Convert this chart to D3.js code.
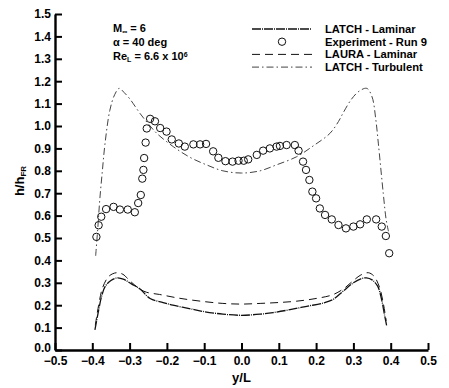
<!DOCTYPE html>
<html>
<head>
<meta charset="utf-8">
<script src="https://cdn.jsdelivr.net/npm/d3@7"></script>
<style>
  body { margin: 0; background: #fff; }
  text { font-family: "Liberation Sans", Arial, sans-serif; font-weight: bold; }
</style>
</head>
<body>
<svg id="chart"></svg>
<script>
const width = 449;
const height = 388;

const xTicks = [-0.5, -0.4, -0.3, -0.2, -0.1, 0.0, 0.1, 0.2, 0.3, 0.4, 0.5];
const yTicks = [0.0, 0.1, 0.2, 0.3, 0.4, 0.5, 0.6, 0.7, 0.8, 0.9, 1.0, 1.1, 1.2, 1.3, 1.4, 1.5];

// LATCH - Laminar
const latchLamX = [-0.393, -0.385, -0.375, -0.365, -0.35, -0.333, -0.315, -0.295, -0.272, -0.245, -0.21, -0.184, -0.14, -0.103, -0.05, 0.0, 0.05, 0.085, 0.13, 0.175, 0.22, 0.245, 0.272, 0.3, 0.32, 0.335, 0.35, 0.365, 0.375, 0.383, 0.389];
const latchLamY = [0.09, 0.16, 0.24, 0.285, 0.31, 0.322, 0.315, 0.295, 0.272, 0.23, 0.212, 0.2, 0.185, 0.172, 0.16, 0.155, 0.16, 0.167, 0.18, 0.195, 0.21, 0.225, 0.262, 0.3, 0.318, 0.322, 0.313, 0.285, 0.23, 0.16, 0.11];

// Experiment - Run 9
const expX = [-0.389, -0.383, -0.376, -0.363, -0.343, -0.326, -0.305, -0.286, -0.277, -0.27, -0.266, -0.263, -0.261, -0.257, -0.254, -0.245, -0.232, -0.218, -0.201, -0.187, -0.168, -0.152, -0.129, -0.111, -0.095, -0.076, -0.062, -0.043, -0.024, -0.008, 0.006, 0.018, 0.041, 0.058, 0.076, 0.094, 0.103, 0.121, 0.143, 0.153, 0.165, 0.173, 0.182, 0.19, 0.2, 0.21, 0.224, 0.242, 0.26, 0.28, 0.3, 0.318, 0.336, 0.361, 0.376, 0.387, 0.396];
const expY = [0.505, 0.557, 0.595, 0.629, 0.639, 0.627, 0.627, 0.615, 0.656, 0.692, 0.765, 0.804, 0.857, 0.926, 0.989, 1.032, 1.021, 0.991, 0.975, 0.94, 0.922, 0.908, 0.918, 0.918, 0.92, 0.887, 0.858, 0.843, 0.841, 0.845, 0.845, 0.851, 0.871, 0.89, 0.9, 0.908, 0.911, 0.915, 0.915, 0.89, 0.841, 0.804, 0.759, 0.707, 0.677, 0.632, 0.603, 0.583, 0.558, 0.543, 0.551, 0.561, 0.583, 0.583, 0.551, 0.509, 0.432];

// LAURA - Laminar
const lauraX = [-0.392, -0.383, -0.372, -0.355, -0.335, -0.318, -0.3, -0.275, -0.255, -0.22, -0.17, -0.11, -0.05, 0.0, 0.05, 0.1, 0.148, 0.2, 0.245, 0.275, 0.3, 0.32, 0.34, 0.355, 0.37, 0.38, 0.388];
const lauraY = [0.11, 0.2, 0.28, 0.33, 0.345, 0.338, 0.31, 0.275, 0.258, 0.248, 0.232, 0.218, 0.208, 0.205, 0.208, 0.212, 0.218, 0.23, 0.247, 0.275, 0.31, 0.335, 0.345, 0.33, 0.28, 0.21, 0.13];

// LATCH - Turbulent
const latchTurbX = [-0.391, -0.385, -0.38, -0.373, -0.366, -0.353, -0.34, -0.328, -0.315, -0.299, -0.272, -0.25, -0.227, -0.183, -0.138, -0.093, -0.05, 0.0, 0.05, 0.093, 0.148, 0.193, 0.237, 0.26, 0.273, 0.295, 0.315, 0.336, 0.35, 0.36, 0.367, 0.38, 0.388, 0.394];
const latchTurbY = [0.42, 0.55, 0.67, 0.8, 0.92, 1.07, 1.14, 1.168, 1.15, 1.12, 1.056, 1.01, 0.967, 0.908, 0.86, 0.826, 0.8, 0.79, 0.8, 0.826, 0.863, 0.912, 0.967, 1.02, 1.06, 1.12, 1.155, 1.168, 1.13, 1.03, 0.92, 0.7, 0.58, 0.53];

const legendNames = ["LATCH - Laminar", "Experiment - Run 9", "LAURA - Laminar", "LATCH - Turbulent"];

const styles = {
  latchLam: { stroke: "#111", width: 1.3, dash: "9,1,1,1" },
  laura: { stroke: "#111", width: 1, dash: "8,5" },
  latchTurb: { stroke: "#444", width: 1, dash: "7,3,1.5,3" },
};

const x = d3.scaleLinear().domain([-0.5, 0.5]).range([55, 428]);
const y = d3.scaleLinear().domain([0, 1.5]).range([350, 14]);

const svg = d3.select("#chart").attr("width", width).attr("height", height);

const line = d3.line()
  .x((d) => x(d[0]))
  .y((d) => y(d[1]))
  .curve(d3.curveCatmullRom);

const zip = (a, b) => a.map((v, i) => [v, b[i]]);

function drawCurve(data, s) {
  svg.append("path")
    .datum(data)
    .attr("d", line)
    .attr("fill", "none")
    .attr("stroke", s.stroke)
    .attr("stroke-width", s.width)
    .attr("stroke-dasharray", s.dash);
}

drawCurve(zip(latchTurbX, latchTurbY), styles.latchTurb);
drawCurve(zip(lauraX, lauraY), styles.laura);
drawCurve(zip(latchLamX, latchLamY), styles.latchLam);

svg.append("g")
  .selectAll("circle")
  .data(zip(expX, expY))
  .enter()
  .append("circle")
  .attr("cx", (d) => x(d[0]))
  .attr("cy", (d) => y(d[1]))
  .attr("r", 3.7)
  .attr("fill", "none")
  .attr("stroke", "#111")
  .attr("stroke-width", 1);

// Axes (ticks pointing inward)
const xAxis = d3.axisBottom(x)
  .tickValues(xTicks)
  .tickFormat(d3.format(".1f"))
  .tickSizeInner(-7)
  .tickSizeOuter(0)
  .tickPadding(10);

const gx = svg.append("g")
  .attr("transform", `translate(0, ${y(0)})`)
  .call(xAxis);

const yAxis = d3.axisLeft(y)
  .tickValues(yTicks)
  .tickFormat(d3.format(".1f"))
  .tickSizeInner(-7)
  .tickSizeOuter(0)
  .tickPadding(4);

const gy = svg.append("g")
  .attr("transform", `translate(${x(-0.5)}, 0)`)
  .call(yAxis);

[gx, gy].forEach((g) => {
  g.select(".domain").attr("stroke", "#000").attr("stroke-width", 2.4);
  g.selectAll(".tick line").attr("stroke", "#000").attr("stroke-width", 2);
  g.selectAll(".tick text")
    .attr("fill", "#000")
    .style("font-size", "12px")
    .style("font-family", "'Liberation Sans', Arial, sans-serif")
    .style("font-weight", "bold");
});
gx.selectAll(".tick text").attr("dy", "0.45em");
gy.select(".tick text").attr("dy", "0.1em");

// Axis titles
svg.append("text")
  .attr("x", x(0))
  .attr("y", 382)
  .attr("text-anchor", "middle")
  .style("font-size", "13px")
  .text("y/L");

const yt = svg.append("text")
  .attr("transform", `translate(24, 181) rotate(-90)`)
  .attr("text-anchor", "middle")
  .style("font-size", "13px");
yt.append("tspan").text("h/h");
yt.append("tspan").attr("baseline-shift", "-30%").style("font-size", "8px").text("FR");

// Flow conditions
const ann = svg.append("g").attr("transform", "translate(113, 0)").style("font-size", "11px");
const a1 = ann.append("text").attr("y", 32);
a1.append("tspan").text("M");
a1.append("tspan").attr("baseline-shift", "-30%").style("font-size", "7px").text("∞");
a1.append("tspan").text(" = 6");
ann.append("text").attr("y", 46).text("α = 40 deg");
const a3 = ann.append("text").attr("y", 60);
a3.append("tspan").text("Re");
a3.append("tspan").attr("baseline-shift", "-30%").style("font-size", "7px").text("L");
a3.append("tspan").text(" = 6.6 x 10");
a3.append("tspan").attr("baseline-shift", "40%").style("font-size", "7px").text("6");

// Legend
const legend = svg.append("g").attr("transform", "translate(252, 0)");
const legendY = [29, 41.7, 54.4, 67.1];
const legendStyles = [styles.latchLam, null, styles.laura, styles.latchTurb];

legend.selectAll("text")
  .data(legendNames)
  .enter()
  .append("text")
  .attr("x", 73)
  .attr("y", (d, i) => legendY[i] + 4)
  .style("font-size", "11.2px")
  .text((d) => d);

legendStyles.forEach((s, i) => {
  if (s) {
    legend.append("line")
      .attr("x1", 0).attr("x2", 60)
      .attr("y1", legendY[i]).attr("y2", legendY[i])
      .attr("stroke", s.stroke)
      .attr("stroke-width", s.width)
      .attr("stroke-dasharray", s.dash);
  } else {
    legend.append("circle")
      .attr("cx", 30).attr("cy", legendY[i])
      .attr("r", 3.7)
      .attr("fill", "none")
      .attr("stroke", "#111");
  }
});
</script>
</body>
</html>
